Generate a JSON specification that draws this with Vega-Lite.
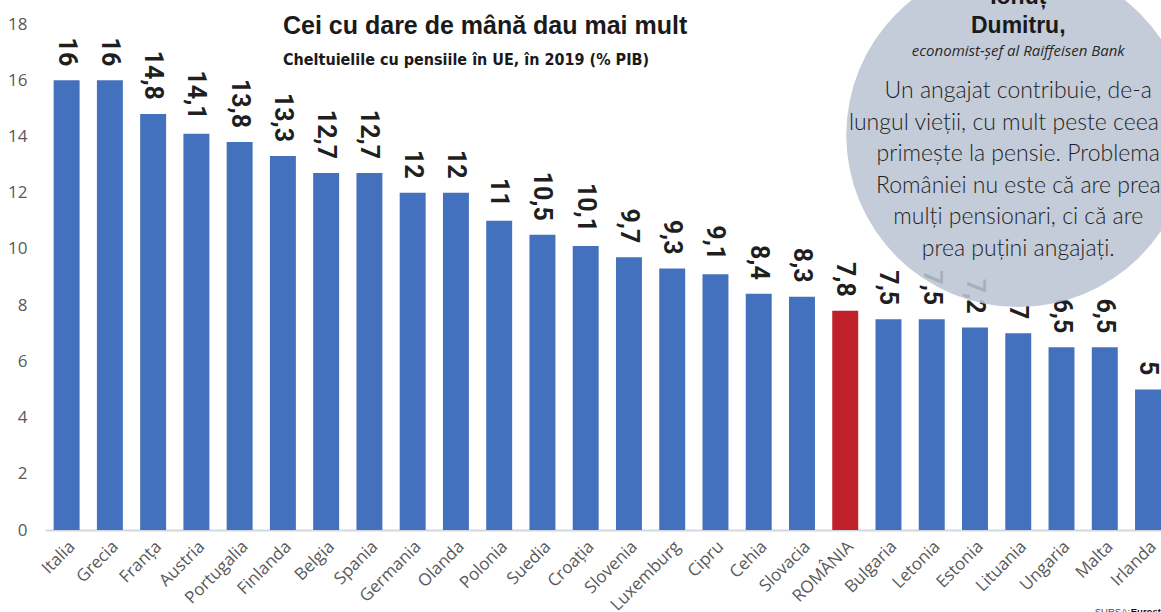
{
  "$schema": "https://vega.github.io/schema/vega-lite/v6.json",
  "autosize": "none",
  "width": 1116,
  "height": 506,
  "padding": {"left": 45, "top": 24, "right": 0, "bottom": 82},
  "background": "white",
  "config": {
    "view": {"stroke": null},
    "locale": {"number": {"decimal": ",", "thousands": ".", "grouping": [3], "currency": ["", " lei"]}}
  },
  "title": {
    "text": "Cei cu dare de mână dau mai mult",
    "subtitle": "Cheltuielile cu pensiile în UE, în 2019 (% PIB)",
    "anchor": "start",
    "frame": "group",
    "dx": 238,
    "dy": 57,
    "offset": -48,
    "font": "Liberation Sans",
    "fontSize": 25,
    "fontWeight": "bold",
    "color": "#1a1a1a",
    "subtitleFont": "DejaVu Sans Condensed, Roboto",
    "subtitleFontSize": 16,
    "subtitleFontWeight": "bold",
    "subtitleColor": "#1a1a1a",
    "subtitlePadding": 13
  },
  "datasets": {
    "tari": [
      {"tara": "Italia", "pib": 16},
      {"tara": "Grecia", "pib": 16},
      {"tara": "Franța", "pib": 14.8},
      {"tara": "Austria", "pib": 14.1},
      {"tara": "Portugalia", "pib": 13.8},
      {"tara": "Finlanda", "pib": 13.3},
      {"tara": "Belgia", "pib": 12.7},
      {"tara": "Spania", "pib": 12.7},
      {"tara": "Germania", "pib": 12},
      {"tara": "Olanda", "pib": 12},
      {"tara": "Polonia", "pib": 11},
      {"tara": "Suedia", "pib": 10.5},
      {"tara": "Croația", "pib": 10.1},
      {"tara": "Slovenia", "pib": 9.7},
      {"tara": "Luxemburg", "pib": 9.3},
      {"tara": "Cipru", "pib": 9.1},
      {"tara": "Cehia", "pib": 8.4},
      {"tara": "Slovacia", "pib": 8.3},
      {"tara": "ROMÂNIA", "pib": 7.8},
      {"tara": "Bulgaria", "pib": 7.5},
      {"tara": "Letonia", "pib": 7.5},
      {"tara": "Estonia", "pib": 7.2},
      {"tara": "Lituania", "pib": 7},
      {"tara": "Ungaria", "pib": 6.5},
      {"tara": "Malta", "pib": 6.5},
      {"tara": "Irlanda", "pib": 5}
    ],
    "note": [
      {"tip": "cerc", "tara": "Lituania", "val": 14.05, "text": ""},
      {"tip": "nume", "tara": "Lituania", "val": 18.7, "text": "Ionuț"},
      {"tip": "nume", "tara": "Lituania", "val": 17.68, "text": "Dumitru,"},
      {"tip": "functie", "tara": "Lituania", "val": 16.86, "text": "economist-șef al Raiffeisen Bank"},
      {"tip": "citat", "tara": "Lituania", "val": 15.35, "text": ["Un angajat contribuie, de-a", "lungul vieții, cu mult peste ceea ce", "primește la pensie. Problema", "României nu este că are prea", "mulți pensionari, ci că are", "prea puțini angajați."]},
      {"tip": "sursa", "tara": "Malta", "val": -3.02, "text": "SURSA:"},
      {"tip": "sursa2", "tara": "Malta", "val": -3.02, "text": "Eurostat"}
    ]
  },
  "encoding": {
    "x": {
      "field": "tara",
      "type": "nominal",
      "sort": null,
      "scale": {
        "domain": ["Italia", "Grecia", "Franța", "Austria", "Portugalia", "Finlanda", "Belgia", "Spania", "Germania", "Olanda", "Polonia", "Suedia", "Croația", "Slovenia", "Luxemburg", "Cipru", "Cehia", "Slovacia", "ROMÂNIA", "Bulgaria", "Letonia", "Estonia", "Lituania", "Ungaria", "Malta", "Irlanda"],
        "paddingInner": 0.4,
        "paddingOuter": 0.1,
        "align": 1
      },
      "axis": {
        "title": null,
        "labelAngle": -45,
        "labelFont": "Open Sans",
        "labelFontSize": 17,
        "labelColor": "#595959",
        "labelPadding": 8,
        "ticks": false,
        "domainColor": "#d3d8e0",
        "domainWidth": 2,
        "grid": false
      }
    }
  },
  "layer": [
    {
      "data": {"name": "tari"},
      "mark": {"type": "bar", "cornerRadius": 0},
      "encoding": {
        "y": {
          "field": "pib",
          "type": "quantitative",
          "scale": {"domain": [0, 18], "nice": false},
          "axis": {
            "title": null,
            "values": [0, 2, 4, 6, 8, 10, 12, 14, 16, 18],
            "labelFont": "Open Sans",
            "labelFontSize": 17,
            "labelColor": "#595959",
            "labelPadding": 18,
            "domain": false,
            "ticks": false,
            "grid": false
          }
        },
        "color": {
          "condition": {"test": "datum.tara === 'ROMÂNIA'", "value": "#C0202A"},
          "value": "#4471BD"
        }
      }
    },
    {
      "data": {"name": "tari"},
      "mark": {"type": "text", "angle": 90, "align": "right", "baseline": "middle", "dx": -14, "font": "Roboto", "fontSize": 25, "fontWeight": "bold", "color": "#1f1f1f"},
      "encoding": {
        "y": {"field": "pib", "type": "quantitative"},
        "text": {"field": "pib", "type": "quantitative", "format": ".1~f"}
      }
    },
    {
      "data": {"name": "note"},
      "transform": [{"filter": "datum.tip === 'cerc'"}],
      "mark": {"type": "point", "shape": "circle", "filled": true, "size": 118336, "color": "#bcc5d4", "opacity": 0.88},
      "encoding": {"y": {"field": "val", "type": "quantitative"}}
    },
    {
      "data": {"name": "note"},
      "transform": [{"filter": "datum.tip === 'nume'"}],
      "mark": {"type": "text", "align": "center", "baseline": "alphabetic", "font": "Liberation Sans", "fontSize": 23, "fontWeight": "bold", "color": "#1a1a1a"},
      "encoding": {"y": {"field": "val", "type": "quantitative"}, "text": {"field": "text"}}
    },
    {
      "data": {"name": "note"},
      "transform": [{"filter": "datum.tip === 'functie'"}],
      "mark": {"type": "text", "align": "center", "baseline": "alphabetic", "font": "Open Sans", "fontSize": 15, "fontStyle": "italic", "color": "#2a2a2a"},
      "encoding": {"y": {"field": "val", "type": "quantitative"}, "text": {"field": "text"}}
    },
    {
      "data": {"name": "note"},
      "transform": [{"filter": "datum.tip === 'citat'"}],
      "mark": {"type": "text", "align": "center", "baseline": "alphabetic", "font": "Lato", "fontSize": 23, "fontWeight": 300, "lineHeight": 31.5, "color": "#1f1f1f"},
      "encoding": {"y": {"field": "val", "type": "quantitative"}, "text": {"field": "text"}}
    },
    {
      "data": {"name": "note"},
      "transform": [{"filter": "datum.tip === 'sursa'"}],
      "mark": {"type": "text", "align": "left", "baseline": "alphabetic", "dx": -10, "font": "Liberation Sans", "fontSize": 9.5, "color": "#444444"},
      "encoding": {"y": {"field": "val", "type": "quantitative"}, "text": {"field": "text"}}
    },
    {
      "data": {"name": "note"},
      "transform": [{"filter": "datum.tip === 'sursa2'"}],
      "mark": {"type": "text", "align": "left", "baseline": "alphabetic", "dx": 26, "font": "Liberation Sans", "fontSize": 9.5, "fontWeight": "bold", "color": "#111111"},
      "encoding": {"y": {"field": "val", "type": "quantitative"}, "text": {"field": "text"}}
    }
  ]
}
